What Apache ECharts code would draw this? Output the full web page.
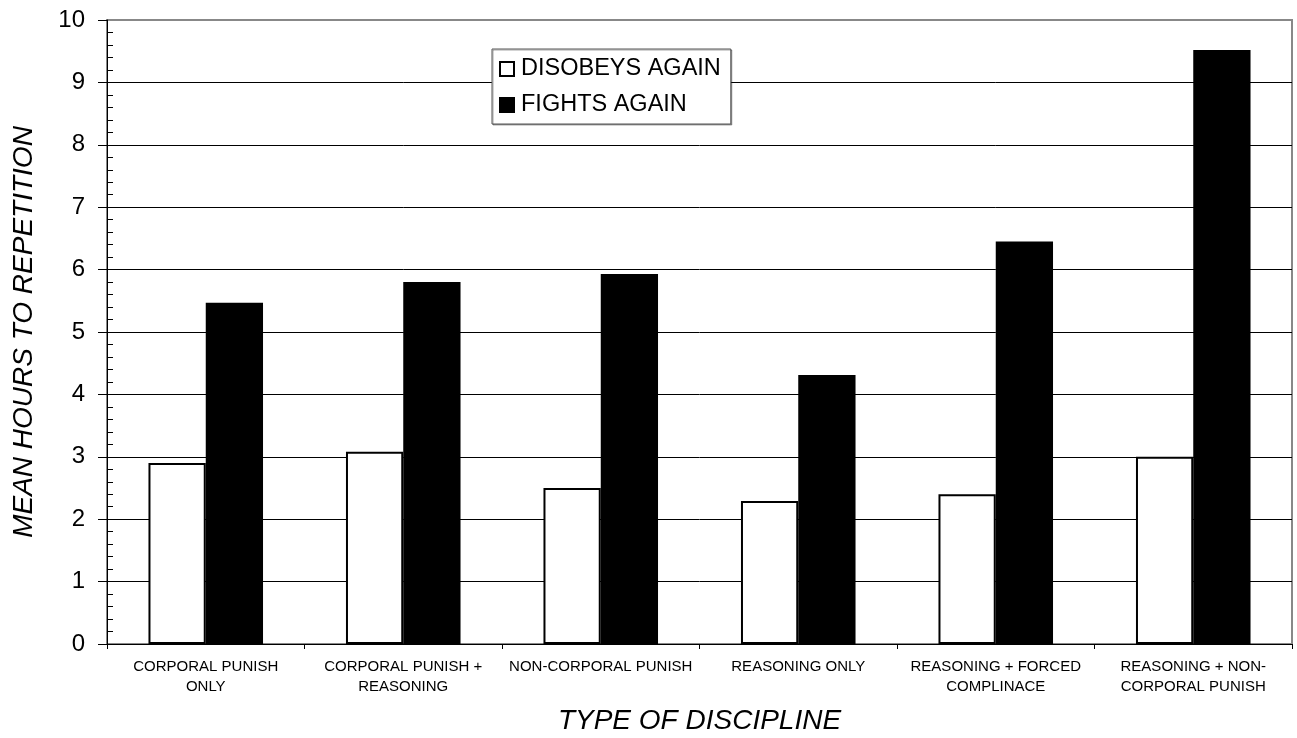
<!DOCTYPE html>
<html><head><meta charset="utf-8">
<script src="https://cdn.jsdelivr.net/npm/echarts@6/dist/echarts.min.js"></script>
<style>html,body{margin:0;padding:0;background:#fff}#c{width:1297px;height:738px}</style>
</head><body><div id="c"></div>
<script>
const categories = ['CORPORAL PUNISH\nONLY','CORPORAL PUNISH +\nREASONING','NON-CORPORAL PUNISH','REASONING ONLY','REASONING + FORCED\nCOMPLINACE','REASONING + NON-\nCORPORAL PUNISH'];
const disobeysAgain = [2.9, 3.08, 2.5, 2.29, 2.4, 3.0];
const fightsAgain = [5.47, 5.8, 5.93, 4.31, 6.45, 9.52];
const yTicks = [0,1,2,3,4,5,6,7,8,9,10];
const font = 'Liberation Sans, Arial, sans-serif';
const chart = echarts.init(document.getElementById('c'));
chart.setOption({
  animation: false,
  grid: {left: 107, right: 5, top: 20, bottom: 94, show: true, borderColor: '#888', borderWidth: 2,
         containLabel: false, outerBoundsMode: 'none'},
  legend: {
    orient: 'vertical', left: 492, top: 49, padding: [8, 10, 7, 7],
    backgroundColor: '#fff', borderColor: '#555', borderWidth: 1,
    shadowColor: 'rgba(0,0,0,0.35)', shadowOffsetX: 1, shadowOffsetY: 1, shadowBlur: 0,
    itemWidth: 14, itemHeight: 14, itemGap: 12, icon: 'rect',
    textStyle: {fontFamily: font, fontSize: 23.5, color: '#000', padding: [0,0,0,2]},
    data: ['DISOBEYS AGAIN', 'FIGHTS AGAIN']
  },
  xAxis: {
    type: 'category', data: categories,
    name: 'TYPE OF DISCIPLINE', nameLocation: 'middle', nameGap: 63,
    nameTextStyle: {fontFamily: font, fontSize: 28, fontStyle: 'italic', color: '#000'},
    axisLine: {lineStyle: {color: '#000', width: 1}},
    axisTick: {show: true, length: 5, lineStyle: {color: '#000'}},
    axisLabel: {fontFamily: font, fontSize: 15, color: '#000', margin: 13, lineHeight: 20, interval: 0}
  },
  yAxis: [{
    type: 'value', min: yTicks[0], max: yTicks[yTicks.length-1], interval: 1,
    name: 'MEAN HOURS TO REPETITION', nameLocation: 'middle', nameGap: 69,
    nameTextStyle: {fontFamily: font, fontSize: 28, fontStyle: 'italic', color: '#000'},
    axisLine: {show: true, lineStyle: {color: '#000', width: 1}},
    axisTick: {show: true, length: 9, lineStyle: {color: '#000'}},
    splitLine: {show: true, showMaxLine: false, lineStyle: {color: '#000', width: 1}},
    axisLabel: {fontFamily: font, fontSize: 24, color: '#000', margin: 22}
  }, {
    type: 'value', min: yTicks[0], max: yTicks[yTicks.length-1], interval: 1, position: 'left',
    axisLine: {show: false},
    axisTick: {show: false, inside: true},
    minorTick: {show: true, splitNumber: 5, length: 6, lineStyle: {color: '#000'}},
    splitLine: {show: false},
    axisLabel: {show: false}
  }],
  series: [
    {name: 'DISOBEYS AGAIN', type: 'bar', data: disobeysAgain, barGap: '0%', barCategoryGap: '42%',
     itemStyle: {color: '#fff', borderColor: '#000', borderWidth: 2}},
    {name: 'FIGHTS AGAIN', type: 'bar', data: fightsAgain, barGap: '0%', barCategoryGap: '42%',
     itemStyle: {color: '#000', borderColor: '#000', borderWidth: 2}}
  ]
});
</script></body></html>
